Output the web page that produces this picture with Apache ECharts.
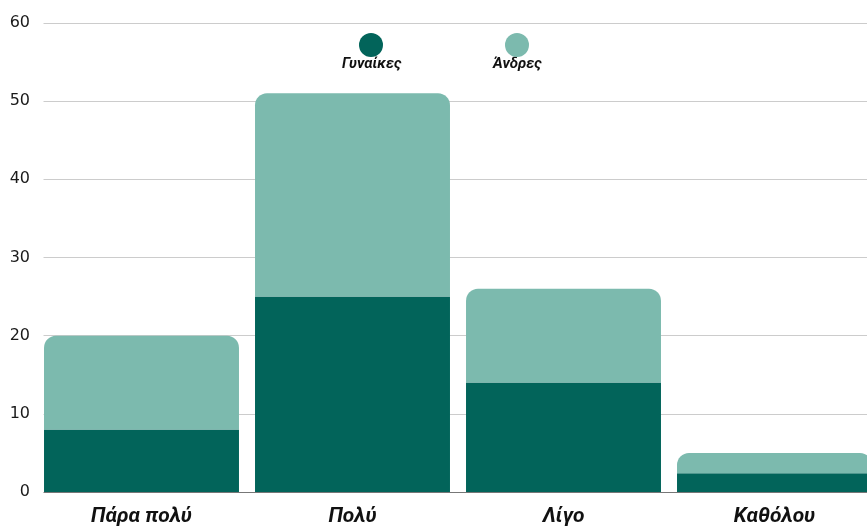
<!DOCTYPE html>
<html>
<head>
<meta charset="utf-8">
<script src="https://cdn.jsdelivr.net/npm/echarts@6/dist/echarts.min.js"></script>
<style>
html,body{margin:0;padding:0;background:#fff;overflow:hidden;width:867px;height:528px;}
#chart{width:888px;height:528px;}
</style>
</head>
<body>
<div id="chart"></div>
<script>
const categories = ['Πάρα πολύ', 'Πολύ', 'Λίγο', 'Καθόλου'];
const seriesNames = ['Γυναίκες', 'Άνδρες'];
const women = [8, 25, 14, 2.4];
const men = [12, 26, 12, 2.6];
const yTicks = [0, 10, 20, 30, 40, 50, 60];

const DARK = '#02645a';
const LIGHT = '#7cbaae';
const FONT = 'Roboto, "Liberation Sans", sans-serif';

const chart = echarts.init(document.getElementById('chart'), null, {renderer: 'canvas'});
chart.setOption({
  animation: false,
  backgroundColor: '#fff',
  grid: {left: 36, top: 23, right: 8, bottom: 36, containLabel: false},
  legend: [
    {data: [seriesNames[0]], left: 359, top: 33, padding: 0, itemWidth: 24, itemHeight: 24, icon: 'circle', formatter: () => '', selectedMode: false},
    {data: [seriesNames[1]], left: 505, top: 33, padding: 0, itemWidth: 24, itemHeight: 24, icon: 'circle', formatter: () => '', selectedMode: false}
  ],
  graphic: [
    {type: 'rect', left: 34, top: 15, z: 100, shape: {width: 9.5, height: 481}, style: {fill: '#fff'}},
    {type: 'text', left: 342, top: 57, style: {text: seriesNames[0], font: 'italic bold 15px ' + FONT, fill: '#111'}},
    {type: 'text', left: 493, top: 57, style: {text: seriesNames[1], font: 'italic bold 15px ' + FONT, fill: '#111'}}
  ],
  xAxis: {
    type: 'category',
    data: categories,
    axisTick: {show: false},
    axisLine: {show: true, lineStyle: {color: '#777', width: 1}},
    axisLabel: {margin: 14, fontFamily: FONT, fontSize: 21, fontWeight: 'bold', fontStyle: 'italic', color: '#111'}
  },
  yAxis: {
    type: 'value',
    min: 0, max: 60, interval: 10,
    axisLine: {show: false},
    axisTick: {show: false},
    splitLine: {lineStyle: {color: '#cccccc', width: 1}},
    axisLabel: {margin: 6, fontFamily: '"DejaVu Sans", sans-serif', fontSize: 16, color: '#1a1a1a',
      formatter: v => yTicks.includes(v) ? String(v) : ''}
  },
  series: [
    {name: seriesNames[0], type: 'bar', stack: 'a', data: women, barCategoryGap: '7.6%',
     itemStyle: {color: DARK}},
    {name: seriesNames[1], type: 'bar', stack: 'a', data: men, barCategoryGap: '7.6%',
     itemStyle: {color: LIGHT, borderRadius: [12, 12, 0, 0]}}
  ]
});
</script>
</body>
</html>
